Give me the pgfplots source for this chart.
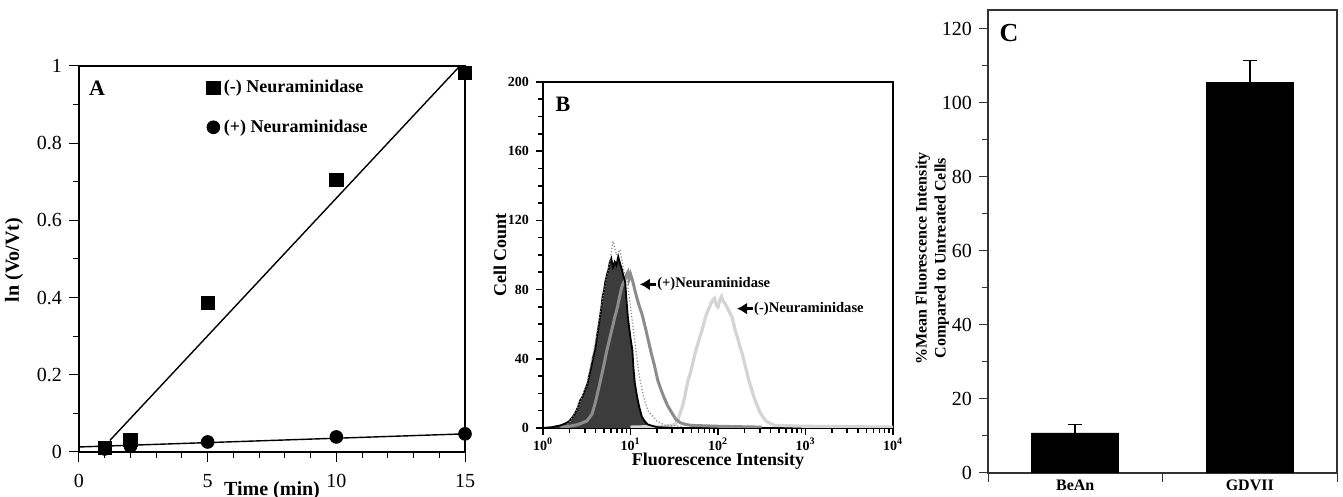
\documentclass[border=0pt]{standalone}
\usepackage{pgfplots}
\pgfplotsset{compat=1.18}
\usepackage{pgfplotstable}
\usepackage{fontspec}
\setmainfont{Liberation Serif}
\usetikzlibrary{arrows.meta}
\definecolor{histdark}{HTML}{3C3C3C}
\definecolor{plusgray}{HTML}{8C8C8C}
\definecolor{minusgray}{HTML}{D4D4D4}
\definecolor{dotgray}{HTML}{8A8A8A}

% Panel A data
\pgfplotstableread{
x y
1 0.010
2 0.032
5 0.387
10 0.705
15 0.982
}\minusNA
\pgfplotstableread{
x y
1 0.008
2 0.015
5 0.026
10 0.039
15 0.047
}\plusNA

% Panel B histograms
\pgfplotstableread{
x y
1.00 0
1.26 0.5
1.41 1
1.58 1.5
1.78 2.5
2.00 4
2.19 6.5
2.35 9
2.51 12
2.66 16
2.82 18
3.02 22
3.24 26
3.40 31
3.55 35
3.75 41
3.93 45
4.20 55
4.47 64
4.65 70
4.80 76
5.00 80
5.13 84
5.40 89
5.62 92
5.80 96
6.03 98
6.30 93
6.61 96
6.90 94
7.24 99
7.60 95
7.94 92
8.30 88
8.71 84
9.00 74
9.33 64
9.65 58
10.0 52
10.5 45
10.8 35
11.2 26
11.9 18
12.6 12
13.5 6.5
14.5 4
15.8 2
20.0 0.5
31.6 0
}\filledhist
\pgfplotstableread{
x y
1.78 1
2.00 3
2.51 12
3.16 25
3.98 50
5.01 80
5.75 95
6.31 108
6.92 100
7.59 103
8.32 92
9.12 85
10.0 70
11.2 50
12.6 30
14.1 18
15.8 10
20.0 4
25.1 1.5
39.8 1
}\dothist
\pgfplotstableread{
x y
1.58 0.5
2.00 1
2.51 2
3.16 4
3.63 8
3.98 15
4.47 26
4.90 35
5.37 45
6.00 55
6.61 64
7.10 70
7.59 77
8.00 82
8.51 85
8.90 88
9.33 90
9.60 86
10.0 89
10.7 84
11.3 79
12.0 74
12.7 70
13.5 66
14.3 61
15.1 56
16.6 47
17.5 42
18.6 37
20.4 28
22.0 23
24.0 18
26.5 13
29.5 9
33.0 5
37.2 3
43.0 2
50.1 1.5
100 1
316 0.5
}\plushist
\pgfplotstableread{
x y
10.0 0.5
25.1 1
32.4 2
35.0 5
37.2 9
39.5 13
41.7 18
43.5 23
45.7 28
48.5 32
51.3 37
54.0 42
57.5 47
61.5 52
66.1 57
70.0 62
74.1 66
78.5 69
83.2 72
87.0 74
91.2 75
95.5 71
100 70
105 74
110 76
115 73
120 72
126 70
132 68
138 66
145 64
151 60
158 56
168 52
178 47
189 43
200 38
212 33
224 28
240 23
257 18
280 13
302 9
330 6
355 4
400 2.5
447 1.5
1000 1
10000 0.5
}\minushist

\begin{document}
\begin{tikzpicture}
\useasboundingbox (0,0) rectangle (671.5pt,248.5pt);

% ---------------- Panel A ----------------
\begin{axis}[
  at={(39.5pt,22.5pt)}, anchor=south west,
  scale only axis, width=193pt, height=193pt,
  xmin=0, xmax=15, ymin=0, ymax=1,
  xtick={0,5,10,15}, minor x tick num=4,
  ytick={0,0.2,0.4,0.6,0.8,1}, minor y tick num=1,
  xtick pos=bottom, ytick pos=left,
  tick align=outside, major tick length=5pt, minor tick length=3pt,
  tick style={black, line width=0.5pt},
  axis line style={line width=0.8pt},
  /pgf/number format/assume math mode=true,
  tick label style={font=\fontsize{10}{12}\selectfont},
  x tick label style={yshift=-2.5pt},
  xlabel={Time (min)}, ylabel={ln (Vo/Vt)},
  label style={font=\bfseries\fontsize{10}{12}\selectfont},
  xlabel style={at={(axis description cs:0.5,-0.1)}, anchor=center},
  ylabel style={at={(axis description cs:-0.168,0.497)}, anchor=center},
  legend style={draw=none, fill=none, at={(0.33,0.975)}, anchor=north west,
    font=\bfseries\fontsize{9}{11}\selectfont, row sep=8pt, inner sep=0pt},
  legend cell align=left,
  legend image code/.code={\draw[#1] plot coordinates {(0.12cm,0cm)};},
  clip=false,
]
\addplot[only marks, mark=square*, mark size=3.3pt, black] table {\minusNA};
\addlegendentry{(-) Neuraminidase}
\addplot[only marks, mark=*, mark size=3.2pt, black] table {\plusNA};
\addlegendentry{(+) Neuraminidase}
\addplot[black, line width=0.7pt, forget plot] coordinates {(1.2,0.03) (14.8,1.0)};
\addplot[black, line width=0.7pt, forget plot] coordinates {(0,0.013) (15,0.047)};
\node[font=\bfseries\fontsize{11}{12}\selectfont] at (rel axis cs:0.047,0.943) {A};
\end{axis}

% ---------------- Panel B ----------------
\begin{axis}[
  at={(271.5pt,34.5pt)}, anchor=south west,
  scale only axis, width=175pt, height=173pt,
  xmode=log, xmin=1, xmax=10000, ymin=0, ymax=200,
  xtick={1,10,100,1000,10000},
  xticklabels={\textbf{10}\textsuperscript{\textbf{0}},\textbf{10}\textsuperscript{\textbf{1}},\textbf{10}\textsuperscript{\textbf{2}},\textbf{10}\textsuperscript{\textbf{3}},\textbf{10}\textsuperscript{\textbf{4}}},
  ytick={0,40,80,120,160,200}, minor y tick num=3,
  xtick pos=bottom, ytick pos=left,
  tick align=outside, major tick length=3.5pt, minor tick length=2.5pt,
  tick style={black, line width=0.8pt},
  axis line style={line width=1.3pt},
  /pgf/number format/assume math mode=true,
  tick label style={font=\bfseries\fontsize{7}{8}\selectfont},
  x tick label style={yshift=2pt},
  xlabel={Fluorescence Intensity}, ylabel={Cell Count},
  label style={font=\bfseries\fontsize{9}{11}\selectfont},
  xlabel style={at={(axis description cs:0.5,-0.095)}, anchor=center},
  ylabel style={at={(axis description cs:-0.123,0.5)}, anchor=center},
]
\addplot[fill=histdark, draw=none] table {\filledhist} \closedcycle;
\addplot[minusgray, line width=1.6pt] table {\minushist};
\addplot[plusgray, line width=1.5pt] table {\plushist};
\addplot[black, line width=0.9pt] table {\filledhist};
\addplot[dotgray, line width=0.6pt, densely dotted] table {\dothist};
\draw[-{Latex[length=5pt,width=6pt]}, line width=1.5pt] (axis cs:19.5,83) -- (axis cs:12.8,83);
\node[anchor=west, inner sep=0.5pt, font=\bfseries\fontsize{7.3}{8}\selectfont] at (axis cs:19.5,83) {(+)Neuraminidase};
\draw[-{Latex[length=5pt,width=6pt]}, line width=1.5pt] (axis cs:250,69) -- (axis cs:165,69);
\node[anchor=west, inner sep=0.5pt, font=\bfseries\fontsize{7.3}{8}\selectfont] at (axis cs:250,69) {(-)Neuraminidase};
\node[font=\bfseries\fontsize{11}{12}\selectfont] at (rel axis cs:0.057,0.936) {B};
\end{axis}

% ---------------- Panel C ----------------
\begin{axis}[
  at={(494pt,12pt)}, anchor=south west,
  scale only axis, width=174.5pt, height=231.5pt,
  xmin=0, xmax=2, ymin=0, ymax=125,
  xtick={0,1,2}, xticklabels={},
  extra x ticks={0.5,1.5}, extra x tick labels={BeAn,GDVII},
  extra x tick style={major tick length=0pt, tick label style={font=\bfseries\fontsize{8}{10}\selectfont}},
  ytick={0,20,40,60,80,100,120}, minor y tick num=1,
  xtick pos=bottom, ytick pos=left,
  tick align=outside, major tick length=4.5pt, minor tick length=3pt,
  tick style={black!80, line width=0.5pt},
  axis line style={black!80, line width=0.6pt},
  /pgf/number format/assume math mode=true,
  tick label style={font=\fontsize{10}{12}\selectfont},
  ylabel={\%Mean Fluorescence Intensity\\Compared to Untreated Cells},
  ylabel style={at={(axis description cs:-0.16,0.464)}, anchor=center, align=center,
    font=\bfseries\fontsize{8}{9.5}\selectfont},
]
\addplot[ybar, fill=black, draw=black, bar width=0.5,
  error bars/.cd, y dir=plus, y explicit,
  error bar style={line width=0.8pt},
  error mark options={rotate=90, mark size=3.5pt, line width=0.8pt}]
  coordinates {(0.5,10.8) +- (0,2.25) (1.5,105.5) +- (0,5.9)};
\node[font=\bfseries\fontsize{13}{14}\selectfont] at (rel axis cs:0.06,0.95) {C};
\end{axis}
\end{tikzpicture}
\end{document}
